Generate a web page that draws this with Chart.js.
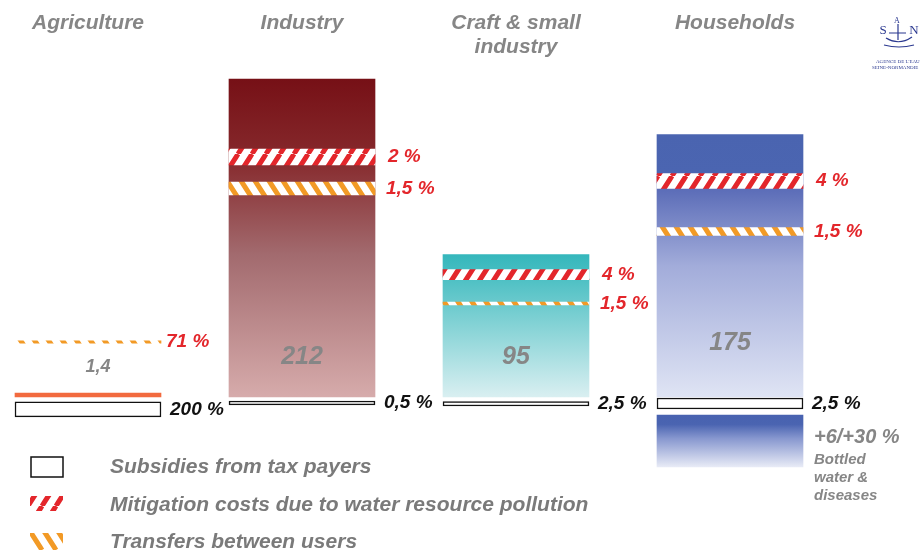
<!DOCTYPE html>
<html>
<head>
<meta charset="utf-8">
<script src="https://cdn.jsdelivr.net/npm/chart.js@4.4.1/dist/chart.umd.min.js"></script>
<style>
  html, body { margin: 0; padding: 0; background: #fff; }
  #wrap { position: relative; width: 920px; height: 554px; }
</style>
</head>
<body>
<div id="wrap"><canvas id="costChart"></canvas></div>
<script>
// Cost of water per user group and the hidden transfers inside each bill
const categories = ['Agriculture', 'Industry', ['Craft & small', 'industry'], 'Households'];
const totals = [1.4, 212, 95, 175];
const totalLabels = ['1,4', '212', '95', '175'];

const mitigationBand = [null, [154.7, 165.3], [78.3, 85], [139, 149]];
const mitigationLabels = [null, '2 %', '4 %', '4 %'];

const transferBand = [[35.8, 37.5], [134.7, 143.3], [61.3, 63.3], [107.7, 113]];
const transferLabels = ['71 %', '1,5 %', '1,5 %', '1,5 %'];

const subsidyBand = [[-13.3, -3.3], [-5.3, -2.7], [-6, -3], [-8, -0.7]];
const subsidyLabels = ['200 %', '0,5 %', '2,5 %', '2,5 %'];

const bottledBand = [null, null, null, [-46.7, -12]];
const bottledLabels = ['+6/+30 %', 'Bottled', 'water &', 'diseases'];

const legendLabels = [
    'Subsidies from tax payers',
    'Mitigation costs due to water resource pollution',
    'Transfers between users'
];

const FONT = '"Liberation Sans", Arial, sans-serif';
const GREY = '#868686';
const RED = '#e3262b';
const ORANGE = '#f29a26';
const HALF_BAR = 73;

// steep diagonal white/colour stripes used for the hatched bands
function hatch(color, rising, withWhite) {
    const w = 14, h = 22;
    const tile = document.createElement('canvas');
    tile.width = w;
    tile.height = h;
    const g = tile.getContext('2d');
    if (withWhite) {
        g.fillStyle = '#ffffff';
        g.fillRect(0, 0, w, h);
    }
    g.strokeStyle = color;
    g.lineWidth = 5;
    g.beginPath();
    for (let k = -1; k <= 1; k++) {
        const o = k * w;
        if (rising) { g.moveTo(o, h); g.lineTo(o + w, 0); }
        else { g.moveTo(o, 0); g.lineTo(o + w, h); }
    }
    g.stroke();
    return g.createPattern(tile, 'repeat');
}

const redHatch = hatch(RED, true, true);
const orangeHatch = hatch(ORANGE, false, true);

const barStops = [
    [[0, '#f26a3e'], [1, '#f26a3e']],
    [[0, '#761016'], [0.25, '#86292c'], [0.55, '#a26a6e'], [1, '#d6abab']],
    [[0, '#35b7bc'], [0.12, '#45bdc1'], [0.4, '#74cdd0'], [1, '#d9eff1']],
    [[0, '#4a64b0'], [0.15, '#4b65b1'], [0.22, '#5e6fb9'], [0.5, '#a2acda'], [1, '#dfe4f4']]
];
const bottledStops = [[0, '#4862b0'], [0.18, '#4a64b1'], [0.45, '#8797cf'], [1, '#e8ebf6']];

function gradientFor(chart, stops, from, to) {
    const y = chart.scales.y;
    const top = y.getPixelForValue(to);
    const bottom = y.getPixelForValue(from);
    const grad = chart.ctx.createLinearGradient(0, top, 0, bottom);
    stops.forEach(s => grad.addColorStop(s[0], s[1]));
    return grad;
}

// labels, titles, legend and logo drawn over the bars
const annotate = {
    id: 'annotate',
    afterDatasetsDraw(chart) {
        const { ctx, scales: { x, y } } = chart;
        const base = y.getPixelForValue(0);
        const mid = band => (y.getPixelForValue(band[0]) + y.getPixelForValue(band[1])) / 2;
        ctx.save();
        ctx.textBaseline = 'middle';

        categories.forEach((cat, i) => {
            const cx = x.getPixelForValue(i);
            const right = cx + HALF_BAR;

            // column titles
            const lines = Array.isArray(cat) ? cat : [cat];
            ctx.fillStyle = GREY;
            ctx.textAlign = 'center';
            ctx.font = 'italic bold 21px ' + FONT;
            lines.forEach((l, k) => ctx.fillText(l, cx + (i === 3 ? 5 : 0), 23 + k * 24));

            // total cost inside the bar
            ctx.font = i === 0 ? 'italic bold 18px ' + FONT : 'italic bold 25px ' + FONT;
            const lift = [30, 40, 40, 54][i];
            ctx.fillText(totalLabels[i], cx + (i === 0 ? 10 : 0), base - lift);

            ctx.textAlign = 'left';
            ctx.font = 'italic bold 19px ' + FONT;
            ctx.fillStyle = RED;
            if (mitigationBand[i]) ctx.fillText(mitigationLabels[i], right + 13, mid(mitigationBand[i]));
            ctx.fillText(transferLabels[i], right + (i === 0 ? 5 : 11), mid(transferBand[i]));

            ctx.fillStyle = '#111111';
            ctx.fillText(subsidyLabels[i], right + 9, mid(subsidyBand[i]));

            if (bottledBand[i]) {
                const top = y.getPixelForValue(bottledBand[i][1]);
                ctx.fillStyle = GREY;
                ctx.font = 'italic bold 20px ' + FONT;
                ctx.fillText(bottledLabels[0], right + 11, top + 23);
                ctx.font = 'italic bold 15px ' + FONT;
                bottledLabels.slice(1).forEach((l, k) => ctx.fillText(l, right + 11, top + 45 + k * 18));
            }
        });

        // legend
        const rows = [467, 505, 542];
        ctx.fillStyle = '#ffffff';
        ctx.fillRect(31, 457, 32, 20);
        ctx.strokeStyle = '#111111';
        ctx.lineWidth = 1.5;
        ctx.strokeRect(31, 457, 32, 20);
        ctx.fillStyle = hatch(RED, true, false);
        ctx.fillRect(30, 496, 33, 15);
        ctx.fillStyle = hatch(ORANGE, false, false);
        ctx.fillRect(30, 533, 33, 17);
        ctx.fillStyle = '#7a7a7a';
        ctx.textAlign = 'left';
        ctx.font = 'italic bold 21px ' + FONT;
        legendLabels.forEach((l, k) => ctx.fillText(l, 110, rows[k]));

        // agency logo
        ctx.fillStyle = '#2b3990';
        ctx.strokeStyle = '#2b3990';
        ctx.textAlign = 'center';
        ctx.font = '13px "Liberation Serif", serif';
        ctx.fillText('S', 883, 31);
        ctx.fillText('N', 914, 31);
        ctx.font = '8px "Liberation Serif", serif';
        ctx.fillText('A', 897, 21);
        ctx.lineWidth = 1.2;
        ctx.beginPath();
        ctx.moveTo(886, 38); ctx.quadraticCurveTo(899, 46, 912, 37);
        ctx.moveTo(898, 24); ctx.lineTo(898, 40);
        ctx.moveTo(889, 33); ctx.lineTo(906, 33);
        ctx.moveTo(884, 45); ctx.quadraticCurveTo(899, 49, 914, 45);
        ctx.stroke();
        ctx.font = '5px "Liberation Serif", serif';
        ctx.textAlign = 'left';
        ctx.fillText("AGENCE DE L'EAU", 876, 62);
        ctx.fillText('SEINE-NORMANDIE', 872, 68);

        ctx.restore();
    }
};

const ctx = document.getElementById('costChart').getContext('2d');

new Chart(ctx, {
    type: 'bar',
    data: {
        labels: categories,
        datasets: [
            {
                label: 'Cost',
                data: totals,
                minBarLength: 4,
                backgroundColor: c => c.chart.chartArea ? gradientFor(c.chart, barStops[c.dataIndex], 0, totals[c.dataIndex]) : '#ccc',
                order: 5
            },
            {
                label: 'Mitigation',
                data: mitigationBand,
                backgroundColor: redHatch,
                order: 4
            },
            {
                label: 'Transfers',
                data: transferBand,
                backgroundColor: orangeHatch,
                order: 3
            },
            {
                label: 'Subsidies',
                data: subsidyBand,
                backgroundColor: '#ffffff',
                borderColor: '#111111',
                borderWidth: 1.5,
                borderSkipped: false,
                order: 2
            },
            {
                label: 'Bottled water',
                data: bottledBand,
                backgroundColor: c => (c.chart.chartArea && bottledBand[c.dataIndex])
                    ? gradientFor(c.chart, bottledStops, bottledBand[c.dataIndex][0], bottledBand[c.dataIndex][1]) : '#ccc',
                order: 1
            }
        ]
    },
    options: {
        responsive: true,
        maintainAspectRatio: false,
        animation: false,
        layout: { padding: { left: 88, right: 190, top: 0, bottom: 0 } },
        datasets: {
            bar: { grouped: false, barThickness: 146, clip: false }
        },
        plugins: {
            legend: { display: false },
            tooltip: { enabled: false }
        },
        scales: {
            x: { display: false, offset: false },
            y: { display: false, min: -104.7, max: 264.7 }
        }
    },
    plugins: [annotate]
});
</script>
</body>
</html>
